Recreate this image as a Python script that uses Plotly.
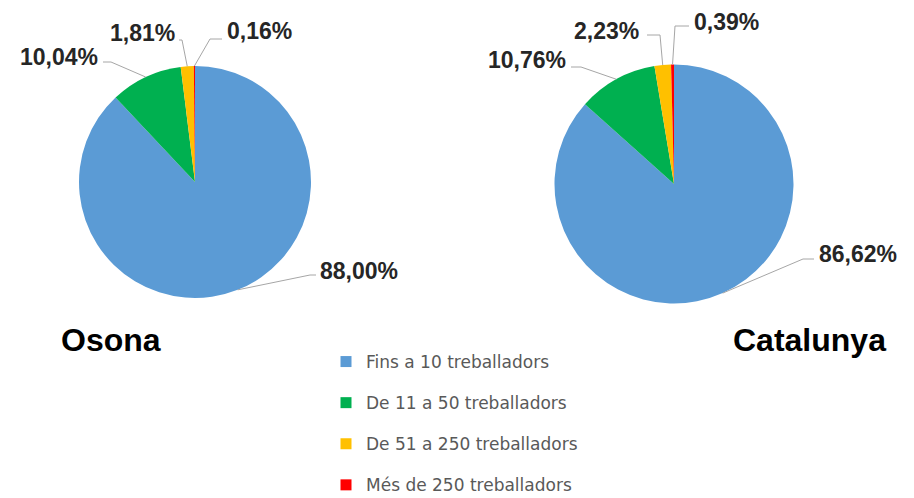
import math
import plotly.graph_objects as go

W, H = 914, 498
OFF = 8  # page body margin shifts the figure by 8px

categories = ["Fins a 10 treballadors", "De 11 a 50 treballadors",
              "De 51 a 250 treballadors", "Més de 250 treballadors"]
osona = [88.00, 10.04, 1.81, 0.16]
catalunya = [86.62, 10.76, 2.23, 0.39]
colors = ["#5B9BD5", "#00B050", "#FFC000", "#FF0000"]


def px(x, y):
    # screen pixel -> paper coords
    return (x - OFF) / W, (H - (y - OFF)) / H


def pie_domain(cx, cy, r):
    x0, y0 = px(cx - r, cy + r)
    x1, y1 = px(cx + r, cy - r)
    return dict(x=[x0, x1], y=[y0, y1])


def fmt(v):
    return f"{v:.2f}".replace(".", ",") + "%"


# label layout: (elbow point, end x of leader line, label anchor, side)
pies = [
    dict(cx=195, cy=182, r=116, vals=osona, name="Osona", title_xy=(111, 340),
         labels=[((310, 275), 316, (318, 271), "left"),
                 ((111, 62), 103, (100, 57), "right"),
                 ((182, 40), 179, (177, 33), "right"),
                 ((210, 39), 222, (225, 31), "left")]),
    dict(cx=674, cy=184, r=119.5, vals=catalunya, name="Catalunya", title_xy=(809, 340),
         labels=[((803, 259), 814, (817, 254), "left"),
                 ((581, 67), 571, (568, 60), "right"),
                 ((660, 35), 647, (641, 31), "right"),
                 ((675, 26), 689, (692, 22), "left")]),
]

fig = go.Figure()
shapes, annotations = [], []

for p in pies:
    fig.add_trace(go.Pie(
        labels=categories, values=p["vals"], sort=False, direction="clockwise",
        rotation=0, textinfo="none", showlegend=False, hoverinfo="label+percent",
        marker=dict(colors=colors, line=dict(width=0)),
        domain=pie_domain(p["cx"], p["cy"], p["r"]),
    ))
    total = sum(p["vals"])
    cum = 0
    for v, (elbow, end_x, anchor, side) in zip(p["vals"], p["labels"]):
        mid = (cum + v / 2) / total * 2 * math.pi
        cum += v
        sx = p["cx"] + p["r"] * math.sin(mid)
        sy = p["cy"] - p["r"] * math.cos(mid)
        x0, y0 = px(sx, sy)
        x1, y1 = px(*elbow)
        x2, y2 = px(end_x, elbow[1])
        shapes.append(dict(type="path", xref="paper", yref="paper",
                           path=f"M {x0} {y0} L {x1} {y1} L {x2} {y2}",
                           line=dict(color="#A6A6A6", width=1)))
        ax, ay = px(*anchor)
        annotations.append(dict(x=ax, y=ay, xref="paper", yref="paper", text=fmt(v),
                                showarrow=False, xanchor=side, yanchor="middle",
                                font=dict(family="Liberation Sans", size=23, color="#262626",
                                          weight="bold")))
    tx, ty = px(*p["title_xy"])
    annotations.append(dict(x=tx, y=ty, xref="paper", yref="paper", text=f"<b>{p['name']}</b>",
                            showarrow=False, xanchor="center", yanchor="middle",
                            font=dict(family="Liberation Sans", size=32, color="#000000")))

# legend entries as dummy markers so rows can be spaced apart
for i, (c, col) in enumerate(zip(categories, colors)):
    fig.add_trace(go.Scatter(
        x=[None], y=[None], mode="markers", name=c, legendgroup=f"g{i}",
        marker=dict(symbol="square", size=11, color=col),
    ))

lx, ly = px(326, 344)
fig.update_layout(
    width=W, height=H,
    margin=dict(l=0, r=0, t=0, b=0),
    paper_bgcolor="white", plot_bgcolor="white",
    xaxis=dict(visible=False), yaxis=dict(visible=False),
    shapes=shapes, annotations=annotations,
    showlegend=True,
    legend=dict(x=lx, y=ly, xanchor="left", yanchor="top",
                traceorder="grouped", tracegroupgap=16,
                font=dict(family="DejaVu Sans", size=17, color="#595959"),
                bgcolor="rgba(0,0,0,0)"),
)

fig.write_html("out.html")
